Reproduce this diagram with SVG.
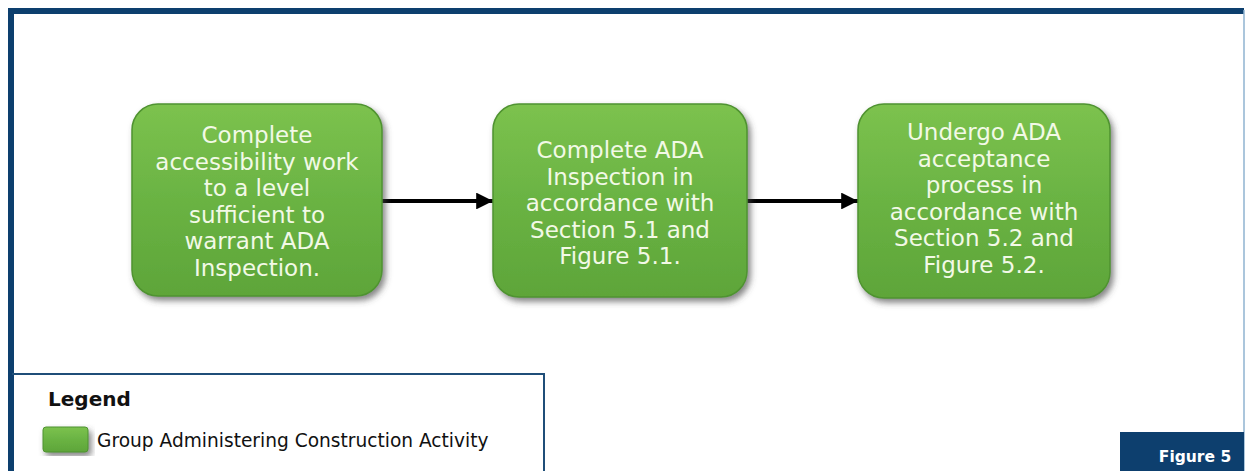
<svg xmlns="http://www.w3.org/2000/svg" width="1247" height="471" viewBox="0 0 1247 471">
<style>
.node-text{font-family:"DejaVu Sans",Verdana,sans-serif;font-size:23px;fill:#f2f9e6;text-anchor:middle}
.box{fill:url(#g);stroke:#4f9330;stroke-width:1.5}
.conn{stroke:#000;stroke-width:4;fill:none}
</style>
<defs>
<linearGradient id="g" x1="0" y1="0" x2="0" y2="1">
<stop offset="0" stop-color="#7cc24e"/>
<stop offset="0.5" stop-color="#6ab343"/>
<stop offset="1" stop-color="#5ea539"/>
</linearGradient>
<filter id="sh" x="-10%" y="-10%" width="125%" height="125%">
<feDropShadow dx="3" dy="4" stdDeviation="3" flood-color="#444" flood-opacity="0.65"/>
</filter>
<marker id="ah" viewBox="0 0 10 10" refX="10" refY="5" markerWidth="4.5" markerHeight="4.2" orient="auto" markerUnits="strokeWidth">
<path d="M0,0 L10,5 L0,10 Z" fill="#000"/>
</marker>
</defs>
<rect width="1247" height="471" fill="#fff"/>
<!-- outer frame -->
<rect x="8" y="8" width="1236" height="6" fill="#0d3f6e"/>
<rect x="8" y="8" width="6" height="463" fill="#0d3f6e"/>
<line x1="1244" y1="10" x2="1244" y2="471" stroke="#8fb3d0" stroke-width="1.5"/>
<g id="connectors">
<line class="conn" x1="382" y1="201" x2="493" y2="201" marker-end="url(#ah)"/>
<line class="conn" x1="747" y1="201" x2="858" y2="201" marker-end="url(#ah)"/>
</g>
<g id="node1">
<rect class="box" x="132" y="104" width="250" height="192" rx="26" filter="url(#sh)"/>
<text class="node-text" x="257" y="143">Complete</text>
<text class="node-text" x="257" y="169.6">accessibility work</text>
<text class="node-text" x="257" y="196.2">to a level</text>
<text class="node-text" x="257" y="222.8">sufficient to</text>
<text class="node-text" x="257" y="249.4">warrant ADA</text>
<text class="node-text" x="257" y="276">Inspection.</text>
</g>
<g id="node2">
<rect class="box" x="493" y="104" width="254" height="193" rx="26" filter="url(#sh)"/>
<text class="node-text" x="620" y="158">Complete ADA</text>
<text class="node-text" x="620" y="184.6">Inspection in</text>
<text class="node-text" x="620" y="211.2">accordance with</text>
<text class="node-text" x="620" y="237.8">Section 5.1 and</text>
<text class="node-text" x="620" y="264.4">Figure 5.1.</text>
</g>
<g id="node3">
<rect class="box" x="858" y="104" width="252" height="194" rx="26" filter="url(#sh)"/>
<text class="node-text" x="984" y="140">Undergo ADA</text>
<text class="node-text" x="984" y="166.6">acceptance</text>
<text class="node-text" x="984" y="193.2">process in</text>
<text class="node-text" x="984" y="219.8">accordance with</text>
<text class="node-text" x="984" y="246.4">Section 5.2 and</text>
<text class="node-text" x="984" y="273">Figure 5.2.</text>
</g>
<g id="legend">
<polyline points="12,374 544,374 544,471" fill="none" stroke="#1f4e78" stroke-width="2"/>
<text x="48" y="406" font-family="DejaVu Sans,Verdana,sans-serif" font-size="20px" font-weight="bold" fill="#111">Legend</text>
<rect x="43" y="427" width="45" height="25" rx="3" fill="url(#g)" stroke="#4f9330" stroke-width="1" filter="url(#sh)"/>
<text x="97" y="447" font-family="DejaVu Sans,Verdana,sans-serif" font-size="18.6px" fill="#111">Group Administering Construction Activity</text>
</g>
<g id="figure-label">
<rect x="1120" y="432" width="124" height="39" fill="#0d3f6e"/>
<text x="1195" y="462" font-family="DejaVu Sans,Verdana,sans-serif" font-size="15.5px" font-weight="bold" fill="#fff" text-anchor="middle">Figure 5</text>
</g>
</svg>
